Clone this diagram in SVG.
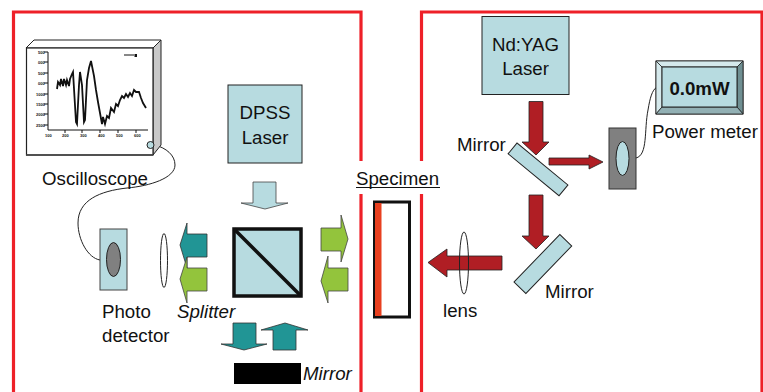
<svg xmlns="http://www.w3.org/2000/svg" width="763" height="392" viewBox="0 0 763 392">
<style>
text{font-family:"Liberation Sans",Arial,sans-serif;font-size:18.7px;fill:#111}
.frame{fill:none;stroke:#ee2028;stroke-width:3.2}
.teal{fill:#219595;stroke:#333;stroke-width:.8}
.green{fill:#93c43c;stroke:#444;stroke-width:.8}
.red{fill:#b01e24;stroke:#222;stroke-width:.8}
.pale{fill:#b7dbe0;stroke:#222;stroke-width:1}
.wire{fill:none;stroke:#222;stroke-width:1}
text.tick{font-size:4px;font-weight:bold}
</style>
<g id="frames">
<path class="frame" d="M13.500 392V12H361V161M361 194V392"/>
<path class="frame" d="M421.500 161V12H762V392M421.500 194V392"/>
</g>
<g id="connectors">
<path class="wire" d="M155 145C166 148 175 155 175 165C175 178 150 186 127 188C100 191 78 200 78 223C78 240 88 258 100 260"/>
<path class="wire" d="M636 158C648 155 644 130 648 110C650 98 652 90 657 87"/>
</g>
<g id="oscilloscope">
<path d="M26 48L34 40H161L153 48Z" fill="#fff" stroke="#222"/>
<path d="M153 48L161 40V145L153 155Z" fill="#c8c8c8" stroke="#222"/>
<rect x="26.500" y="48" width="126.500" height="107" fill="#fff" stroke="#222" stroke-width="1.200"/>
<path d="M26 155H153" stroke="#444" stroke-width="1.500"/>
<path d="M48 52V130H148" fill="none" stroke="#111" stroke-width="1"/>
<path d="M44 52H48M44 62H48M44 73H48M44 83H48M44 94H48M44 104H48M44 114H48M44 125H48M65 130V133M82 130V133M100 130V133M118 130V133M136 130V133" stroke="#111" stroke-width="1"/>
<path d="M57 89L58 82L60 85L61 79L63 86L64 79L66 85L67 80L69 86L70 79L72 74L73 72L76 122L77 124L79 85L80 72L82 85L84 122L85 120L87 80L89 68L91 61L94 76L96 90L98 102L102 124L103 117L105 124L107 116L109 118L111 108L114 112L116 104L118 106L120 100L122 96L124 98L126 94L128 97L130 93L132 96L134 90L136 92L139 92L141 98L143 103L146 108" fill="none" stroke="#111" stroke-width="1.800"/>
<path d="M124 55H134" stroke="#111"/>
<rect x="134.500" y="54" width="2.500" height="3" fill="#111"/>
<text class="tick" x="38" y="54">500</text><text class="tick" x="38" y="64">000</text><text class="tick" x="38" y="75">500</text><text class="tick" x="38" y="85">000</text><text class="tick" x="36" y="96">1000</text><text class="tick" x="36" y="106">1500</text><text class="tick" x="36" y="116">2000</text><text class="tick" x="36" y="127">2500</text>
<text class="tick" x="45" y="137">100</text><text class="tick" x="62" y="137">200</text><text class="tick" x="80" y="137">300</text><text class="tick" x="98" y="137">400</text><text class="tick" x="116" y="137">500</text><text class="tick" x="134" y="137">600</text>
<circle cx="150.500" cy="145" r="3.500" fill="#b7dbe0" stroke="#222"/>
<text x="42" y="185">Oscilloscope</text>
</g>
<g id="dpss-laser">
<rect class="pale" x="228" y="85" width="74" height="78"/>
<text x="265" y="119" text-anchor="middle">DPSS</text>
<text x="265" y="144" text-anchor="middle">Laser</text>
</g>
<g id="photo-detector">
<rect x="100" y="229" width="27" height="61" fill="#b7dbe0" stroke="#444"/>
<ellipse cx="113.500" cy="259.500" rx="7" ry="17" fill="#808080" stroke="#222"/>
<text x="102" y="318">Photo</text>
<text x="102" y="342">detector</text>
</g>
<g id="lens-left"><ellipse cx="164" cy="260.500" rx="3.500" ry="27" fill="#fff" stroke="#222"/></g>
<g id="splitter">
<rect x="234" y="229" width="67" height="67" fill="#b7dbe0" stroke="#111" stroke-width="3.500"/>
<path d="M234 229L301 296" stroke="#111" stroke-width="3.500"/>
<text x="177" y="318" style="font-style:italic">Splitter</text>
</g>
<g id="beams-dpss"><path d="M253 182H276V203H288L265 209L241 203H253Z" fill="#b7dbe0" stroke="#444" stroke-width=".8"/></g>
<g id="beams-left">
<path class="teal" d="M207 234H187V223L180 245L187 268V257H207Z"/>
<path class="green" d="M207 268H187V257L180 279L187 303V291H207Z"/>
</g>
<g id="beams-right">
<path class="green" d="M321 228H341V215L348 239L341 262V251H321Z"/>
<path class="green" d="M348 268H328V256L321 281L328 303V291H348Z"/>
</g>
<g id="beams-bottom">
<path class="teal" d="M233 323H256V344H267L244 350L221 344H233Z"/>
<path class="teal" d="M273 350H296V330H308L285 323L261 330H273Z"/>
</g>
<g id="mirror-bottom">
<rect x="234" y="363" width="67" height="21" fill="#000"/>
<text x="303" y="380" style="font-style:italic">Mirror</text>
</g>
<g id="specimen">
<text x="356" y="185">Specimen</text>
<path d="M356 187.500H440" stroke="#111" stroke-width="1"/>
<rect x="374.500" y="202" width="35" height="115" fill="#fff" stroke="#111" stroke-width="3"/>
<rect x="375" y="203" width="6.500" height="113" fill="#e8401f"/>
</g>
<g id="lens-right">
<path class="red" d="M428 262.500L447 249V256H502V270H447V277Z"/>
<ellipse cx="464" cy="263" rx="4.500" ry="31" fill="none" stroke="#222"/>
<text x="443" y="317">lens</text>
</g>
<g id="nd-yag-laser">
<rect class="pale" x="482" y="16.500" width="87" height="78"/>
<text x="525.500" y="51" text-anchor="middle">Nd:YAG</text>
<text x="525.500" y="75" text-anchor="middle">Laser</text>
</g>
<g id="beams-red">
<path class="red" d="M529 101.500H543V142H549L536 155L522 142H529Z"/>
<path class="red" d="M549 158H589V155L603 162L589 169V165H549Z"/>
<path class="red" d="M529 195H543V236H549L536 249L522 236H529Z"/>
</g>
<g id="mirror-top">
<rect x="0" y="0" width="66" height="14" class="pale" transform="translate(517 143) rotate(39.500)"/>
<text x="457" y="151">Mirror</text>
</g>
<g id="mirror-lower">
<rect x="0" y="0" width="66" height="16.500" class="pale" transform="translate(514 282) rotate(-46)"/>
<text x="545" y="298">Mirror</text>
</g>
<g id="power-detector">
<rect x="609" y="128" width="27" height="61" fill="#808080" stroke="#333"/>
<ellipse cx="622.500" cy="158.500" rx="6.500" ry="17" fill="#b7dbe0" stroke="#222"/>
</g>
<g id="power-meter">
<rect x="656" y="61" width="87" height="53" fill="#b7dbe0" stroke="#222"/>
<path d="M656 61L662 67H737L743 61Z" fill="#d5e9ec" stroke="#222" stroke-width=".8"/>
<path d="M656 61L662 67V107L656 114Z" fill="#d5e9ec" stroke="#222" stroke-width=".8"/>
<path d="M743 61L737 67V107L743 114Z" fill="#6f8f92" stroke="#222" stroke-width=".8"/>
<path d="M656 114L662 107H737L743 114Z" fill="#92b0b4" stroke="#222" stroke-width=".8"/>
<rect x="662" y="67" width="75" height="40" fill="#b7dbe0" stroke="#222"/>
<text x="699.500" y="95" text-anchor="middle" style="font-weight:bold">0.0mW</text>
<text x="652" y="138">Power meter</text>
</g>
</svg>
